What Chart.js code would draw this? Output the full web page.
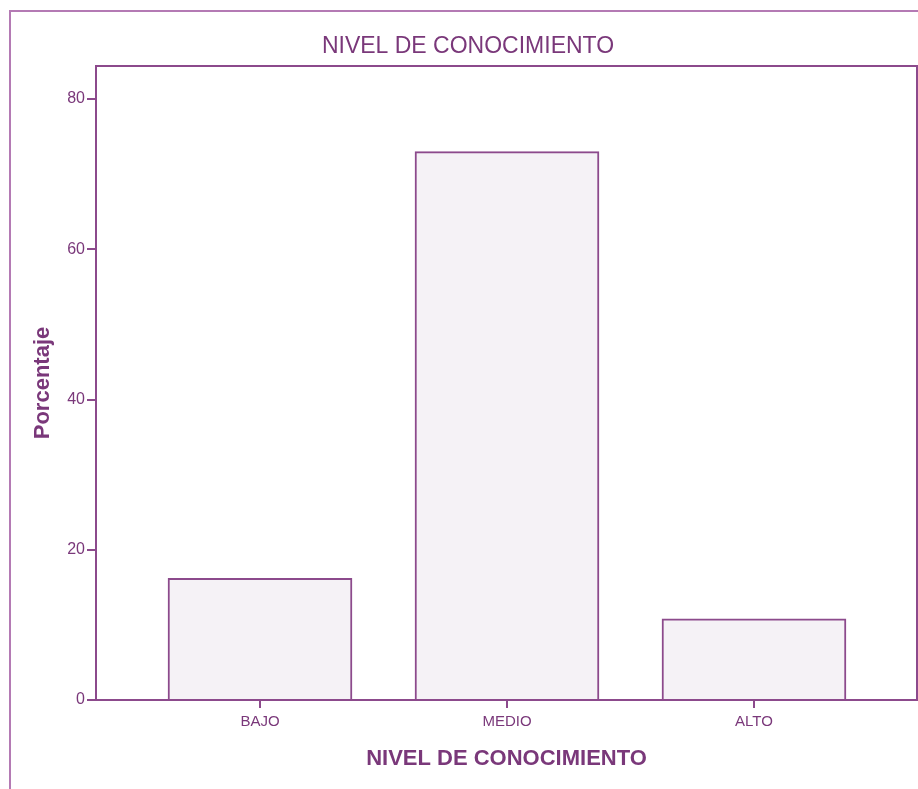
<!DOCTYPE html>
<html>
<head>
<meta charset="utf-8">
<script src="https://cdn.jsdelivr.net/npm/chart.js@4.4.1/dist/chart.umd.min.js"></script>
<style>
  html, body { margin: 0; padding: 0; background: #fff; }
  #wrap { position: relative; width: 918px; height: 789px; }
</style>
</head>
<body>
<div id="wrap"><canvas id="grafico" width="918" height="789"></canvas></div>
<script>
// datos del gráfico
const categorias = ['BAJO', 'MEDIO', 'ALTO'];
const porcentajes = [16.2, 73.0, 10.8];
const ticksY = [0, 20, 40, 60, 80];
const tituloGrafico = 'NIVEL DE CONOCIMIENTO';
const tituloEjeX = 'NIVEL DE CONOCIMIENTO';
const tituloEjeY = 'Porcentaje';

const morado = '#8c4a8c';
const moradoTexto = '#7a387a';
const moradoMarco = '#b47ab4';
const relleno = '#f5f2f6';
const fuente = "'Liberation Sans', Arial, sans-serif";

// marco exterior, recuadro del área y título superior
const marcoPlugin = {
    id: 'marco',
    beforeDraw(chart) {
        const c = chart.ctx;
        c.save();
        c.strokeStyle = moradoMarco;
        c.lineWidth = 2;
        c.beginPath();
        c.moveTo(10, 789);
        c.lineTo(10, 11);
        c.lineTo(918, 11);
        c.stroke();
        c.fillStyle = moradoTexto;
        c.font = '23px ' + fuente;
        c.textAlign = 'center';
        c.textBaseline = 'middle';
        c.fillText(tituloGrafico, 468, 47);
        c.restore();
    },
    afterDraw(chart) {
        const a = chart.chartArea;
        const c = chart.ctx;
        c.save();
        c.strokeStyle = morado;
        c.lineWidth = 2;
        c.beginPath();
        c.moveTo(a.left, a.top);
        c.lineTo(a.right, a.top);
        c.lineTo(a.right, a.bottom);
        c.stroke();
        c.restore();
    }
};

const ctx = document.getElementById('grafico').getContext('2d');

new Chart(ctx, {
    type: 'bar',
    data: {
        datasets: [{
            data: porcentajes.map((v, i) => ({ x: i, y: v })),
            backgroundColor: relleno,
            borderColor: morado,
            borderWidth: 2,
            barThickness: 184
        }]
    },
    options: {
        responsive: false,
        animation: false,
        layout: { padding: { top: 66, right: 1, left: 0, bottom: 0 } },
        plugins: {
            legend: { display: false },
            tooltip: { enabled: false }
        },
        scales: {
            x: {
                type: 'linear',
                offset: false,
                min: -0.664,
                max: 2.66,
                afterBuildTicks: (scale) => {
                    scale.ticks = categorias.map((_, i) => ({ value: i }));
                },
                afterFit: (scale) => { scale.height = 89; },
                ticks: {
                    callback: (v) => categorias[v],
                    color: moradoTexto,
                    font: { family: fuente, size: 15 },
                    padding: 5,
                    maxRotation: 0
                },
                grid: { offset: false, drawOnChartArea: false, drawTicks: true, tickLength: 8, color: morado, lineWidth: 2 },
                border: { color: morado, width: 2 },
                title: {
                    display: true,
                    text: tituloEjeX,
                    color: moradoTexto,
                    font: { family: fuente, size: 22, weight: 'bold' },
                    padding: { top: 0, bottom: 17 }
                }
            },
            y: {
                min: 0,
                max: 84.4,
                afterBuildTicks: (scale) => {
                    scale.ticks = ticksY.map(v => ({ value: v }));
                },
                afterFit: (scale) => { scale.width = 96; },
                ticks: {
                    color: moradoTexto,
                    font: { family: fuente, size: 16 },
                    padding: 2
                },
                grid: { drawOnChartArea: false, drawTicks: true, tickLength: 9, color: morado, lineWidth: 2 },
                border: { color: morado, width: 2 },
                title: {
                    display: true,
                    text: tituloEjeY,
                    color: moradoTexto,
                    font: { family: fuente, size: 22, weight: 'bold' },
                    padding: { top: 30, bottom: 0 }
                }
            }
        }
    },
    plugins: [marcoPlugin]
});
</script>
</body>
</html>
